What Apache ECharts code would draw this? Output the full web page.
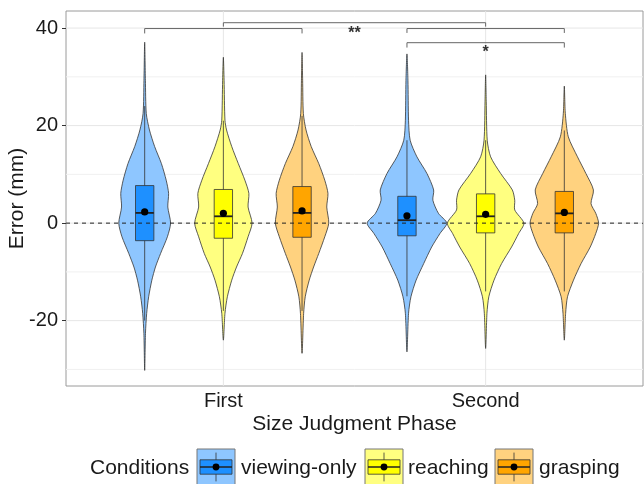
<!DOCTYPE html>
<html>
<head>
<meta charset="utf-8">
<script src="https://cdn.jsdelivr.net/npm/echarts@6/dist/echarts.min.js"></script>
<style>
html, body { margin: 0; padding: 0; background: #fff; }
#chart { width: 644px; height: 484px; }
</style>
</head>
<body>
<div id="chart"></div>
<script>
const phases = ['First', 'Second']
const conditions = ['viewing-only', 'reaching', 'grasping']
const yTicks = [-20, 0, 20, 40]
const yMinor = [-30, -10, 10, 30]

// violin outlines: [error (mm), relative density]
const violinFirstViewing = [[37.1, 0], [29.3, 0.018], [22.5, 0.04], [19.1, 0.12], [15.7, 0.25], [12.2, 0.42], [8.8, 0.54], [6.1, 0.6], [3.3, 0.58], [0, 0.65], [-2.8, 0.57], [-6.2, 0.4], [-9.0, 0.27], [-11.7, 0.18], [-15.1, 0.1], [-18.5, 0.05], [-22.6, 0.02], [-30.2, 0]]
const violinFirstReaching = [[34.0, 0], [29.3, 0.018], [21.1, 0.04], [19.1, 0.08], [15.7, 0.21], [12.2, 0.375], [8.8, 0.54], [6.1, 0.64], [3.3, 0.62], [0, 0.72], [-2.8, 0.62], [-6.2, 0.48], [-9.0, 0.33], [-11.7, 0.21], [-15.1, 0.1], [-18.5, 0.04], [-24.0, 0]]
const violinFirstGrasping = [[35.0, 0], [29.3, 0.015], [22.5, 0.033], [19.1, 0.1], [15.7, 0.23], [12.2, 0.42], [8.8, 0.57], [6.1, 0.65], [3.3, 0.62], [0, 0.67], [-2.8, 0.57], [-6.2, 0.42], [-9.0, 0.29], [-11.7, 0.18], [-15.1, 0.08], [-18.5, 0.04], [-26.7, 0]]
const violinSecondViewing = [[34.7, 0], [29.3, 0.025], [21.1, 0.04], [17.0, 0.08], [13.6, 0.25], [10.2, 0.5], [6.8, 0.67], [4.7, 0.65], [2.0, 0.79], [0, 1.0], [-2.1, 0.83], [-4.9, 0.62], [-8.3, 0.42], [-11.7, 0.23], [-15.1, 0.1], [-18.5, 0.04], [-26.4, 0]]
const violinSecondReaching = [[30.4, 0], [25.0, 0.015], [17.0, 0.04], [13.6, 0.125], [10.2, 0.375], [6.8, 0.67], [4.7, 0.73], [2.7, 0.73], [0, 0.96], [-2.1, 0.83], [-4.9, 0.65], [-8.3, 0.4], [-11.7, 0.21], [-15.1, 0.08], [-18.5, 0.033], [-25.7, 0]]
const violinSecondGrasping = [[28.1, 0], [22.5, 0.025], [17.7, 0.1], [13.6, 0.33], [10.2, 0.54], [6.8, 0.73], [4.0, 0.67], [2.0, 0.79], [0, 0.86], [-2.1, 0.79], [-4.9, 0.65], [-8.3, 0.42], [-11.7, 0.23], [-15.1, 0.08], [-18.5, 0.033], [-24.0, 0]]

// box stats: [lower whisker, Q1, median, Q3, upper whisker]
const boxFirst = [[-20, -3.6, 2.1, 7.7, 24], [-18, -3.1, 1.4, 6.9, 21], [-18, -2.9, 2.1, 7.5, 22]]
const boxSecond = [[-15, -2.6, 0.6, 5.5, 17], [-14, -2.0, 1.4, 6.0, 17], [-14, -2.0, 2.0, 6.5, 19]]
const meanFirst = [2.3, 2.0, 2.5]
const meanSecond = [1.5, 1.8, 2.2]

// significance brackets: [x start, x end, top, tick end]
const brackets = [[0.7, 1.3, 39.9, 38.9], [1.0, 2.0, 41.1, 40.3], [1.7, 2.3, 39.9, 39.0], [1.7, 2.3, 37.0, 36.0]]
const sigLabels = [[1.5, 39.6, '**'], [2.0, 35.7, '*']]

const violins = [[violinFirstViewing, violinFirstReaching, violinFirstGrasping], [violinSecondViewing, violinSecondReaching, violinSecondGrasping]]
const boxes = [boxFirst, boxSecond]
const means = [meanFirst, meanSecond]

const boxColors = ['#1E90FF', '#FFFF00', '#FFA500']
const violinColors = ['#8EC6FF', '#FFFF80', '#FFD27F']
const dodge = [-0.3, 0, 0.3]
const violinHalf = 0.152
const boxHalf = 0.035
const font = 'Liberation Sans, Arial, sans-serif'
const ink = '#333333'

const chart = echarts.init(document.getElementById('chart'))

function violinSeries (c) {
  return {
    type: 'custom',
    name: conditions[c],
    z: 2,
    data: [[0], [1]],
    renderItem: function (params, api) {
      const p = api.value(0)
      const cx = p + 1 + dodge[c]
      const prof = violins[p][c]
      const right = prof.map(d => api.coord([cx + d[1] * violinHalf, d[0]]))
      const left = prof.slice(1, -1).reverse().map(d => api.coord([cx - d[1] * violinHalf, d[0]]))
      const st = boxes[p][c]
      const tl = api.coord([cx - boxHalf, st[3]])
      const br = api.coord([cx + boxHalf, st[1]])
      const medL = api.coord([cx - boxHalf, st[2]])
      const medR = api.coord([cx + boxHalf, st[2]])
      const wLo = api.coord([cx, st[0]])
      const wHi = api.coord([cx, st[4]])
      const m = api.coord([cx, means[p][c]])
      return {
        type: 'group',
        children: [
          { type: 'polygon', shape: { points: right.concat(left), smooth: 0.25 }, style: { fill: violinColors[c], stroke: ink, lineWidth: 0.8 } },
          { type: 'line', shape: { x1: wLo[0], y1: wLo[1], x2: wHi[0], y2: wHi[1] }, style: { stroke: ink, lineWidth: 0.8 } },
          { type: 'rect', shape: { x: tl[0], y: tl[1], width: br[0] - tl[0], height: br[1] - tl[1] }, style: { fill: boxColors[c], stroke: ink, lineWidth: 0.8 } },
          { type: 'line', shape: { x1: medL[0], y1: medL[1], x2: medR[0], y2: medR[1] }, style: { stroke: '#222', lineWidth: 1.8 } },
          { type: 'circle', shape: { cx: m[0], cy: m[1], r: 3.6 }, style: { fill: '#000' } }
        ]
      }
    }
  }
}

function legendKey (x, c) {
  const y = 449, s = 36
  return [
    { type: 'rect', shape: { x: x, y: y, width: s + 2, height: s }, style: { fill: violinColors[c], stroke: '#777', lineWidth: 1 } },
    { type: 'line', shape: { x1: x + s / 2 + 1, y1: y + s * 0.1, x2: x + s / 2 + 1, y2: y + s * 0.9 }, style: { stroke: ink, lineWidth: 0.8 } },
    { type: 'rect', shape: { x: x + 3, y: y + s * 0.3, width: s - 4, height: s * 0.4 }, style: { fill: boxColors[c], stroke: ink, lineWidth: 0.8 } },
    { type: 'line', shape: { x1: x + 3, y1: y + s / 2, x2: x + s - 1, y2: y + s / 2 }, style: { stroke: '#222', lineWidth: 1.5 } },
    { type: 'circle', shape: { cx: x + s / 2 + 1, cy: y + s / 2, r: 3.4 }, style: { fill: '#000' } }
  ]
}

function legendText (x, t) {
  return { type: 'text', x: x, y: 468, style: { text: t, font: '21px ' + font, fill: '#1a1a1a', verticalAlign: 'middle' } }
}

const option = {
  animation: false,
  grid: { left: 66, right: 1, top: 11, bottom: 98, outerBoundsMode: 'none', containLabel: false, show: true, borderColor: '#9a9a9a', borderWidth: 1, backgroundColor: 'transparent' },
  xAxis: {
    type: 'value', min: 0.4, max: 2.6,
    name: 'Size Judgment Phase', nameLocation: 'middle', nameGap: 28, nameMoveOverlap: false,
    nameTextStyle: { fontSize: 21, fontFamily: font, color: '#1a1a1a' },
    axisLine: { show: false },
    splitLine: { show: false },
    axisTick: { customValues: [1, 2], length: 4, lineStyle: { color: ink } },
    axisLabel: { customValues: [1, 2], formatter: v => phases[Math.round(v) - 1], fontSize: 20, fontFamily: font, color: '#1a1a1a', margin: 5 }
  },
  yAxis: {
    type: 'value', min: -33.4, max: 43.5,
    name: 'Error (mm)', nameLocation: 'middle', nameGap: 38, nameMoveOverlap: false,
    nameTextStyle: { fontSize: 21, fontFamily: font, color: '#1a1a1a' },
    axisLine: { show: false },
    splitLine: { show: false },
    axisTick: { customValues: yTicks, length: 4, lineStyle: { color: ink } },
    axisLabel: { customValues: yTicks, fontSize: 20, fontFamily: font, color: '#1a1a1a', margin: 8 }
  },
  series: [
    {
      type: 'custom', name: 'grid', z: 1, silent: true,
      data: yTicks.map(v => [v, 1]).concat(yMinor.map(v => [v, 0])),
      renderItem: function (params, api) {
        const a = api.coord([0.4, api.value(0)])
        const b = api.coord([2.6, api.value(0)])
        return { type: 'line', shape: { x1: a[0], y1: a[1], x2: b[0], y2: b[1] }, style: { stroke: api.value(1) ? '#e6e6e6' : '#f0f0f0', lineWidth: 1 } }
      }
    },
    {
      type: 'custom', name: 'xgrid', z: 1, silent: true,
      data: [[1], [2]],
      renderItem: function (params, api) {
        const a = api.coord([api.value(0), -33.4])
        const b = api.coord([api.value(0), 43.5])
        return { type: 'line', shape: { x1: a[0], y1: a[1], x2: b[0], y2: b[1] }, style: { stroke: '#e6e6e6', lineWidth: 1 } }
      }
    },
    violinSeries(0), violinSeries(1), violinSeries(2),
    {
      type: 'custom', name: 'zero', z: 5, silent: true,
      data: [[0]],
      renderItem: function (params, api) {
        const a = api.coord([0.4, api.value(0)])
        const b = api.coord([2.6, api.value(0)])
        return { type: 'line', shape: { x1: a[0], y1: a[1], x2: b[0], y2: b[1] }, style: { stroke: '#222', lineWidth: 1, lineDash: [4, 4] } }
      }
    },
    {
      type: 'custom', name: 'brackets', z: 5, silent: true,
      data: brackets,
      renderItem: function (params, api) {
        const p1 = api.coord([api.value(0), api.value(3)])
        const p2 = api.coord([api.value(0), api.value(2)])
        const p3 = api.coord([api.value(1), api.value(2)])
        const p4 = api.coord([api.value(1), api.value(3)])
        return { type: 'polyline', shape: { points: [p1, p2, p3, p4] }, style: { stroke: '#666', lineWidth: 1, fill: null } }
      }
    },
    {
      type: 'custom', name: 'signif', z: 5, silent: true,
      data: sigLabels,
      renderItem: function (params, api) {
        const p = api.coord([api.value(0), api.value(1)])
        // asterisks sit high in the em box, so push the glyph down to its centre
        return { type: 'text', x: p[0], y: p[1] + 4, style: { text: sigLabels[params.dataIndex][2], font: 'bold 16px ' + font, fill: '#333', align: 'center', verticalAlign: 'middle' } }
      }
    }
  ],
  graphic: [
    legendText(90, 'Conditions'),
    ...legendKey(197, 0), legendText(241, conditions[0]),
    ...legendKey(365, 1), legendText(408, conditions[1]),
    ...legendKey(495, 2), legendText(539, conditions[2])
  ]
}

chart.setOption(option)
</script>
</body>
</html>
